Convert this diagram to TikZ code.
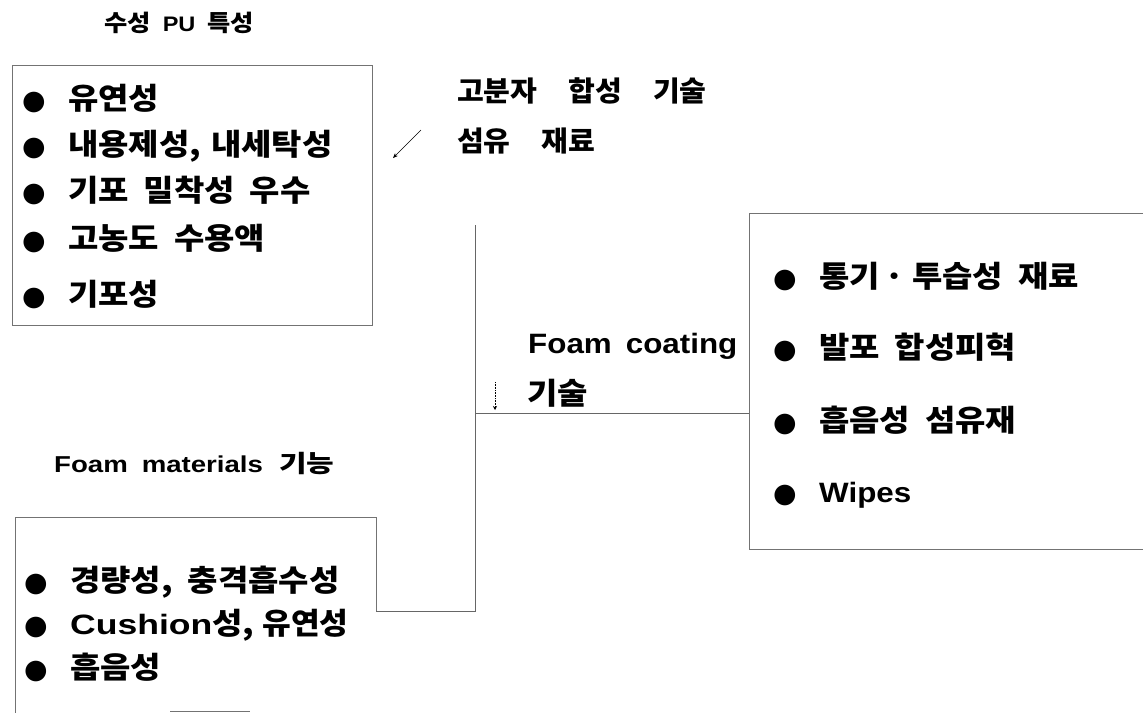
\documentclass[tikz,border=0pt]{standalone}
\usepackage{fontspec}
\setmainfont{Liberation Sans}
\newfontfamily\kr{Noto Sans CJK KR}[FakeStretch=1.1]
\newfontfamily\krn{Noto Sans CJK KR}[FakeStretch=1.04]
\newfontfamily\krw{Noto Sans CJK KR}[FakeStretch=1.25]
\newfontfamily\sym{DejaVu Sans}
\newfontfamily\latA{Liberation Sans}[FakeStretch=1.12]
\newfontfamily\latB{Liberation Sans}[FakeStretch=1.2]
\newfontfamily\latC{Liberation Sans}[FakeStretch=1.27]
\usetikzlibrary{arrows.meta}
\newcommand\bul{\makebox[46pt][l]{\raisebox{0pt}{\sym\fontsize{27}{27}\selectfont ●}}}
\newcommand\itemfont{\kr\bfseries\fontsize{30}{30}\selectfont\spaceskip 15pt\relax}
\newcommand\labelfont{\krn\bfseries\fontsize{28}{28}\selectfont\spaceskip 31pt\relax}
\newcommand\headfont{\kr\bfseries\fontsize{23}{23}\selectfont\spaceskip 12pt\relax}
\tikzset{
  frame/.style={draw=black!55, line width=0.7pt},
  conn/.style={draw=black!60, line width=0.7pt},
  item/.style={anchor=base west, inner sep=0pt, font=\itemfont},
  label/.style={anchor=base west, inner sep=0pt, font=\labelfont},
  head/.style={anchor=base west, inner sep=0pt, font=\headfont},
}
\begin{document}
\begin{tikzpicture}[x=1pt,y=-1pt]
\useasboundingbox (0,0) rectangle (1143,713);
% boxes
\draw[frame] (12,65) rectangle (372,325);
\draw[frame] (1143,213) -- (749,213) -- (749,549) -- (1143,549);
\draw[frame] (376,611) -- (376,517) -- (15,517) -- (15,713);
\draw[frame] (170,711) -- (250,711);
% headings
\node[head] (h1) at (104,31) {수성 {\latA\bfseries\fontsize{21}{21}\selectfont PU} 특성};
\node[head] (h2) at (54,472) {{\latB\bfseries\fontsize{23}{23}\selectfont Foam\hspace{14pt}materials}\hspace{16pt}{\krw\bfseries\fontsize{24}{24}\selectfont 기능}};
% box 1 items
\node[item] (a1) at (22,109) {\bul 유연성};
\node[item] (a2) at (22,155) {\bul 내용제성,\hspace{10pt}내세탁성};
\node[item] (a3) at (22,201) {\bul 기포 밀착성 우수};
\node[item] (a4) at (22,249) {\bul 고농도 수용액};
\node[item] (a5) at (22,305) {\bul 기포성};
% upper middle labels
\node[label] (m1) at (457,101) {고분자 합성 기술};
\node[label] (m2) at (457,151) {섬유 재료};
\coordinate (arrS) at (421,130);
\coordinate (arrE) at (393,158);
\draw[line width=0.6pt, -{Stealth[length=5pt,width=4pt]}] (arrS) -- (arrE);
% Foam coating
\node[anchor=base west, inner sep=0pt, font=\latA\bfseries\fontsize{28}{28}\selectfont] (fc) at (528,353) {Foam\hspace{14pt}coating};
\node[anchor=base west, inner sep=0pt, font=\kr\bfseries\fontsize{30}{30}\selectfont] (fc2) at (527,404) {기술};
% right box items
\node[item] (b1) at (773,287) {\bul 통기\hspace{5pt}·\hspace{7pt}투습성 재료};
\node[item] (b2) at (773,358) {\bul 발포 합성피혁};
\node[item] (b3) at (773,431) {\bul 흡음성 섬유재};
\node[item] (b4) at (773,502) {\bul {\latA\bfseries\fontsize{28}{28}\selectfont Wipes}};
% box 3 items
\node[item] (c1) at (24,591) {\bul 경량성, 충격흡수성};
\node[item] (c2) at (24,634) {\bul {\latC\bfseries\fontsize{28}{28}\selectfont Cushion}성,\hspace{8pt}{\krn 유연성}};
\node[item] (c3) at (24,678) {\bul 흡음성};
% connectors
\coordinate (top) at (475,225);
\coordinate (j1) at (475,611);
\coordinate (j2) at (475,413);
\coordinate (b3w) at (749,413);
\coordinate (c3e) at (376,611);
\draw[conn] (c3e) -- (j1) -- (top);
\draw[conn] (j2) -- (b3w);
\coordinate (dS) at (495,382);
\coordinate (dE) at (495,410);
\draw[line width=0.6pt, densely dotted, -{Stealth[length=4pt,width=4pt]}] (dS) -- (dE);
\end{tikzpicture}
\end{document}
